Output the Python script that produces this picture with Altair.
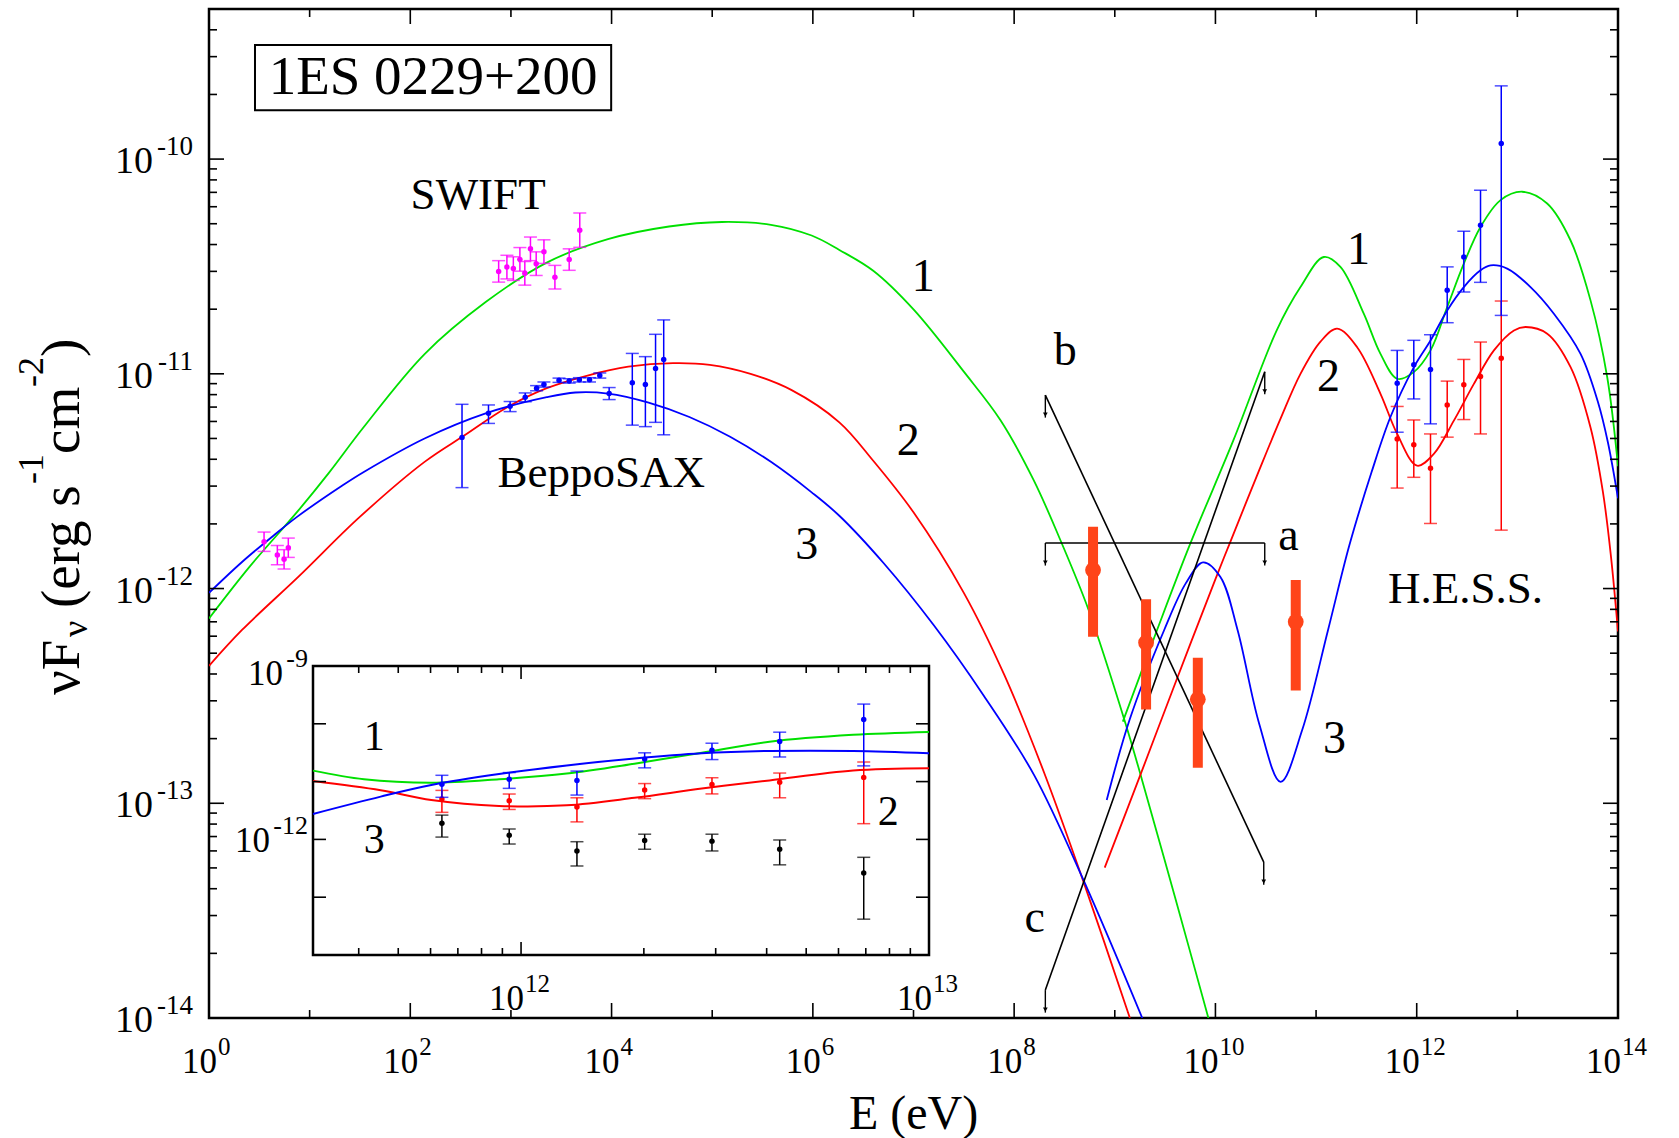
import altair as alt
import pandas as pd

FONT = "Liberation Serif"
GREEN, RED, BLUE, MAG, FERMI = "#00e000", "#ff0000", "#0000ff", "#ff00ff", "#ff4419"

# ------------- values (all as log10) -------------
# model curves: log10 E[eV] / log10 nuFnu [erg s-1 cm-2]
m1_sync_logE = [0.0, 0.4, 0.878, 1.193, 1.534, 2.142, 2.749, 3.356, 3.964, 4.571, 5.097, 5.583, 5.988, 6.263, 6.6, 7.0, 7.5, 7.863, 8.194, 8.459, 8.74, 9.105, 9.27, 9.6, 9.93]
m1_sync_logF = [-12.139, -11.90, -11.642, -11.46, -11.25, -10.908, -10.666, -10.482, -10.373, -10.314, -10.293, -10.306, -10.356, -10.423, -10.52, -10.70, -10.99, -11.215, -11.495, -11.774, -12.10, -12.626, -12.89, -13.44, -14.0]
m2_sync_logE = [0.0, 0.328, 0.9, 1.49, 2.142, 2.547, 2.951, 3.356, 3.761, 4.166, 4.611, 4.976, 5.381, 5.785, 6.263, 6.6, 7.0, 7.5, 7.9, 8.3, 8.7, 9.15]
m2_sync_logF = [-12.36, -12.193, -11.94, -11.67, -11.410, -11.284, -11.159, -11.067, -11.008, -10.967, -10.950, -10.958, -11.0, -11.075, -11.226, -11.405, -11.645, -12.02, -12.40, -12.86, -13.38, -14.0]
m3_sync_logE = [0.0, 0.331, 0.663, 0.878, 1.325, 1.534, 2.142, 2.749, 3.356, 3.64, 3.964, 4.368, 4.773, 5.178, 5.583, 5.988, 6.263, 6.7, 7.2, 7.7, 8.2, 8.696, 9.273]
m3_sync_logF = [-12.02, -11.875, -11.745, -11.665, -11.52, -11.458, -11.301, -11.184, -11.109, -11.087, -11.092, -11.134, -11.201, -11.293, -11.410, -11.552, -11.661, -11.88, -12.17, -12.50, -12.87, -13.365, -14.0]

m1_ic_logE = [9.08, 9.42, 9.751, 10.18, 10.61, 10.845, 11.077, 11.242, 11.474, 11.640, 11.806, 11.971, 12.137, 12.303, 12.468, 12.634, 12.833, 13.048, 13.296, 13.528, 13.727, 13.893, 14.0]
m1_ic_logF = [-12.62, -12.193, -11.79, -11.308, -10.796, -10.596, -10.456, -10.502, -10.720, -10.907, -11.023, -10.992, -10.891, -10.689, -10.487, -10.316, -10.191, -10.152, -10.207, -10.378, -10.658, -11.016, -11.43]
m2_ic_logE = [8.90, 9.277, 9.577, 10.005, 10.15, 10.434, 10.646, 10.845, 11.044, 11.209, 11.408, 11.640, 11.806, 12.004, 12.170, 12.369, 12.568, 12.767, 12.966, 13.082, 13.297, 13.529, 13.727, 13.85, 13.93, 14.0]
m2_ic_logF = [-13.30, -12.84, -12.47, -11.95, -11.78, -11.45, -11.21, -11.0, -10.85, -10.79, -10.876, -11.093, -11.280, -11.428, -11.373, -11.218, -11.047, -10.891, -10.798, -10.782, -10.813, -10.969, -11.25, -11.55, -11.85, -12.2]
m3_ic_logE = [8.92, 9.148, 9.491, 9.705, 9.877, 10.048, 10.220, 10.434, 10.648, 10.862, 11.119, 11.33, 11.55, 11.74, 11.971, 12.137, 12.303, 12.468, 12.634, 12.734, 12.899, 13.131, 13.363, 13.628, 13.80, 13.90, 14.0]
m3_ic_logF = [-12.985, -12.61, -12.193, -11.976, -11.878, -11.945, -12.193, -12.628, -12.90, -12.659, -12.193, -11.80, -11.46, -11.20, -10.97, -10.845, -10.705, -10.596, -10.518, -10.495, -10.510, -10.596, -10.720, -10.907, -11.13, -11.32, -11.58]

# SWIFT (magenta)
sw_logE = [0.547, 0.679, 0.746, 0.788, 2.878, 2.960, 3.024, 3.089, 3.138, 3.194, 3.251, 3.328, 3.437, 3.579, 3.684]
sw_logF = [-11.782, -11.844, -11.864, -11.810, -10.523, -10.503, -10.510, -10.467, -10.532, -10.418, -10.487, -10.431, -10.550, -10.468, -10.331]
sw_err = [0.045, 0.045, 0.045, 0.045, 0.05, 0.055, 0.055, 0.055, 0.055, 0.055, 0.055, 0.055, 0.055, 0.05, 0.08]

# BeppoSAX (blue)
bs_logE = [2.514, 2.777, 2.992, 3.142, 3.255, 3.328, 3.478, 3.579, 3.680, 3.781, 3.883, 3.976, 4.206, 4.336, 4.437, 4.518]
bs_logF = [-11.296, -11.184, -11.151, -11.109, -11.067, -11.050, -11.030, -11.033, -11.028, -11.028, -11.008, -11.092, -11.042, -11.050, -10.975, -10.933]
bs_hi = [-11.142, -11.145, -11.129, -11.089, -11.055, -11.038, -11.020, -11.023, -11.018, -11.018, -10.996, -11.064, -10.905, -10.920, -10.816, -10.749]
bs_lo = [-11.530, -11.231, -11.176, -11.130, -11.079, -11.062, -11.040, -11.043, -11.038, -11.038, -11.020, -11.120, -11.239, -11.246, -11.226, -11.284]

# Fermi (thick orange-red)
fe_logE = [8.784, 9.311, 9.825, 10.798]
fe_logF = [-11.914, -12.252, -12.516, -12.155]
fe_hi = [-11.712, -12.050, -12.322, -11.960]
fe_lo = [-12.224, -12.563, -12.834, -12.475]

# H.E.S.S. (blue and red sets, same energies)
he_logE = [11.806, 11.971, 12.137, 12.303, 12.468, 12.634, 12.840]
heb_logF = [-11.044, -10.958, -10.980, -10.611, -10.456, -10.308, -9.927]
heb_hi = [-10.891, -10.844, -10.818, -10.502, -10.336, -10.145, -9.659]
heb_lo = [-11.272, -11.117, -11.233, -10.762, -10.619, -10.574, -10.728]
her_logF = [-11.303, -11.330, -11.440, -11.145, -11.051, -11.012, -10.927]
her_hi = [-11.152, -11.215, -11.280, -11.034, -10.933, -10.852, -10.661]
her_lo = [-11.532, -11.482, -11.697, -11.295, -11.213, -11.280, -11.728]
# inset black set
hek_logF = [-11.72, -11.93, -12.20, -12.02, -12.03, -12.17, -12.58]
hek_hi = [-11.58, -11.82, -12.04, -11.91, -11.91, -12.01, -12.31]
hek_lo = [-11.96, -12.08, -12.46, -12.17, -12.20, -12.44, -13.38]

# inset model curves
in1_logE = [11.49, 11.615, 11.78, 11.946, 12.112, 12.278, 12.443, 12.609, 12.814, 13.0]
in1_logF = [-10.81, -10.96, -11.02, -10.96, -10.86, -10.69, -10.50, -10.31, -10.19, -10.14]
in2_logE = [11.49, 11.656, 11.78, 11.946, 12.112, 12.278, 12.443, 12.609, 12.814, 13.0]
in2_logF = [-10.99, -11.15, -11.32, -11.42, -11.41, -11.28, -11.12, -10.98, -10.81, -10.77]
in3_logE = [11.49, 11.656, 11.78, 11.946, 12.112, 12.278, 12.443, 12.609, 12.814, 13.0]
in3_logF = [-11.56, -11.26, -11.06, -10.87, -10.72, -10.60, -10.51, -10.47, -10.47, -10.51]

# upper-limit "butterfly" lines a, b, c (end points)
bf_id = ["a", "a", "b", "b", "c", "c"]
bf_logE = [8.31, 10.49, 8.31, 10.48, 8.31, 10.49]
bf_logF = [-11.788, -11.788, -11.099, -13.274, -13.87, -10.99]
arrow_len = 0.105

# annotations
ann_text = ["SWIFT", "BeppoSAX", "1", "2", "3", "1", "2", "3", "b", "a", "c", "H.E.S.S."]
ann_logE = [2.674, 3.897, 7.097, 6.948, 5.94, 11.421, 11.123, 11.183, 8.509, 10.726, 8.205, 12.485]
ann_logF = [-10.233, -11.527, -10.612, -11.378, -11.861, -10.489, -11.08, -12.766, -10.959, -11.821, -13.598, -12.068]
ann_size = [45, 45, 46, 46, 46, 46, 46, 46, 46, 46, 46, 45]
inset_ann_text = ["1", "3", "2"]
inset_ann_logE = [11.64, 11.64, 12.90]
inset_ann_logF = [-10.457, -12.24, -11.75]

title_text = "1ES 0229+200"
title_logE, title_logF = 2.227, -9.697
title_box_logE = [0.457, 3.996]
title_box_logF = [-9.772, -9.469]

# axis ticks / labels
x_major_exp = [0, 2, 4, 6, 8, 10, 12, 14]
x_minor_exp = [1, 3, 5, 7, 9, 11, 13]
y_major_exp = [-14, -13, -12, -11, -10]

# ------------- layout -------------
W, H = 1409, 1009
PAD = {"left": 209, "top": 9, "right": 61, "bottom": 120}
IL, IR, IT, IB = 104, 720, 657, 946   # inset box inside the plot area (px)

XS = alt.Scale(type="log", domain=[1.0, 1e14], nice=False)
YS = alt.Scale(type="log", domain=[1e-14, 5e-10], nice=False)
XI = alt.Scale(type="log", domain=[10 ** 11.49, 1e13], range=[IL, IR], nice=False)
YI = alt.Scale(type="log", domain=[1e-14, 1e-9], range=[IB, IT], nice=False)


def P(v):
    return [10.0 ** t for t in v]


def xch(scale, f="E"):
    return alt.X(f"{f}:Q", scale=scale, axis=None)


def ych(scale, f="F"):
    return alt.Y(f"{f}:Q", scale=scale, axis=None)


def curves(segs, xs_, ys_, width=1.8):
    rows = []
    for sid, (col, xs, ys) in enumerate(segs):
        for i, (a, b) in enumerate(zip(xs, ys)):
            rows.append({"E": 10 ** a, "F": 10 ** b, "seg": sid, "col": col, "i": i})
    df = pd.DataFrame(rows)
    return alt.Chart(df).mark_line(strokeWidth=width, interpolate="catmull-rom", clip=True).encode(
        x=xch(xs_), y=ych(ys_), color=alt.Color("col:N", scale=None, legend=None),
        detail="seg:N", order="i:Q")


def errbars(xs, ys, his, los, color, xs_, ys_, cap=13, sw=1.5, pt=30):
    df = pd.DataFrame({"E": P(xs), "F": P(ys), "hi": P(his), "lo": P(los)})
    b = alt.Chart(df)
    return [
        b.mark_rule(color=color, strokeWidth=sw).encode(x=xch(xs_), y=ych(ys_, "lo"), y2="hi:Q"),
        b.mark_tick(color=color, orient="horizontal", size=cap, thickness=sw).encode(x=xch(xs_), y=ych(ys_, "hi")),
        b.mark_tick(color=color, orient="horizontal", size=cap, thickness=sw).encode(x=xch(xs_), y=ych(ys_, "lo")),
        b.mark_circle(color=color, size=pt, opacity=1).encode(x=xch(xs_), y=ych(ys_)),
    ]


main_layers = []

# model curves
main_layers.append(curves([
    (GREEN, m1_sync_logE, m1_sync_logF), (RED, m2_sync_logE, m2_sync_logF), (BLUE, m3_sync_logE, m3_sync_logF),
    (GREEN, m1_ic_logE, m1_ic_logF), (RED, m2_ic_logE, m2_ic_logF), (BLUE, m3_ic_logE, m3_ic_logF),
], XS, YS))

# butterfly lines
bf_df = pd.DataFrame({"id": bf_id, "E": P(bf_logE), "F": P(bf_logF)})
main_layers.append(alt.Chart(bf_df).mark_line(color="black", strokeWidth=1.6).encode(
    x=xch(XS), y=ych(YS), detail="id:N"))
ar_df = pd.DataFrame({"E": P(bf_logE), "F": P(bf_logF), "tip": P([v - arrow_len for v in bf_logF])})
main_layers.append(alt.Chart(ar_df).mark_rule(color="black", strokeWidth=1.4).encode(
    x=xch(XS), y=ych(YS), y2="tip:Q"))
main_layers.append(alt.Chart(ar_df).mark_point(shape="triangle-down", filled=True, color="black",
                                               size=22, opacity=1, yOffset=-3).encode(
    x=xch(XS), y=ych(YS, "tip")))

# Fermi
fe_df = pd.DataFrame({"E": P(fe_logE), "F": P(fe_logF), "hi": P(fe_hi), "lo": P(fe_lo)})
main_layers.append(alt.Chart(fe_df).mark_rule(color=FERMI, strokeWidth=10).encode(
    x=xch(XS), y=ych(YS, "lo"), y2="hi:Q"))
main_layers.append(alt.Chart(fe_df).mark_circle(color=FERMI, size=250, opacity=1).encode(
    x=xch(XS), y=ych(YS)))

# data sets
main_layers += errbars(sw_logE, sw_logF, [a + e for a, e in zip(sw_logF, sw_err)],
                       [a - e for a, e in zip(sw_logF, sw_err)], MAG, XS, YS)
main_layers += errbars(bs_logE, bs_logF, bs_hi, bs_lo, BLUE, XS, YS)
main_layers += errbars(he_logE, her_logF, her_hi, her_lo, RED, XS, YS)
main_layers += errbars(he_logE, heb_logF, heb_hi, heb_lo, BLUE, XS, YS)

# title box + text
tb_df = pd.DataFrame({"x1": [10 ** title_box_logE[0]], "x2": [10 ** title_box_logE[1]],
                      "y1": [10 ** title_box_logF[0]], "y2": [10 ** title_box_logF[1]],
                      "E": [10 ** title_logE], "F": [10 ** title_logF], "t": [title_text]})
main_layers.append(alt.Chart(tb_df).mark_rect(fill="white", stroke="black", strokeWidth=2).encode(
    x=xch(XS, "x1"), x2="x2:Q", y=ych(YS, "y1"), y2="y2:Q"))
main_layers.append(alt.Chart(tb_df).mark_text(font=FONT, fontSize=55, baseline="alphabetic", align="center").encode(
    x=xch(XS), y=ych(YS), text="t:N"))

# annotations
ann_df = pd.DataFrame({"E": P(ann_logE), "F": P(ann_logF), "t": ann_text, "fs": ann_size})
main_layers.append(alt.Chart(ann_df).mark_text(font=FONT, baseline="alphabetic", align="center").encode(
    x=xch(XS), y=ych(YS), text="t:N", size=alt.Size("fs:Q", scale=None, legend=None)))

# main ticks (inward, all four sides)
xmaj = pd.DataFrame({"E": [10.0 ** k for k in x_major_exp]})
xmin = pd.DataFrame({"E": [10.0 ** k for k in x_minor_exp]})
ymaj = pd.DataFrame({"F": [10.0 ** k for k in y_major_exp]})
ymin = pd.DataFrame({"F": [m * 10.0 ** k for k in y_major_exp for m in range(2, 10) if m * 10.0 ** k < 4.9e-10]})
for df, L in [(xmaj, 15), (xmin, 8)]:
    main_layers.append(alt.Chart(df).mark_rule(color="black", strokeWidth=1.6).encode(
        x=xch(XS), y=alt.value(H), y2=alt.value(H - L)))
    main_layers.append(alt.Chart(df).mark_rule(color="black", strokeWidth=1.6).encode(
        x=xch(XS), y=alt.value(0), y2=alt.value(L)))
for df, L in [(ymaj, 15), (ymin, 8)]:
    main_layers.append(alt.Chart(df).mark_rule(color="black", strokeWidth=1.6).encode(
        y=ych(YS), x=alt.value(0), x2=alt.value(L)))
    main_layers.append(alt.Chart(df).mark_rule(color="black", strokeWidth=1.6).encode(
        y=ych(YS), x=alt.value(W), x2=alt.value(W - L)))

# main tick labels
xl1 = pd.DataFrame({"E": [10.0 ** k for k in x_major_exp if k < 10], "t": [str(k) for k in x_major_exp if k < 10]})
xl2 = pd.DataFrame({"E": [10.0 ** k for k in x_major_exp if k >= 10], "t": [str(k) for k in x_major_exp if k >= 10]})
for df, d10, dex in [(xl1, 8, 9), (xl2, 3, 4)]:
    main_layers.append(alt.Chart(df).mark_text(text="10", font=FONT, fontSize=35, align="right",
                                               baseline="alphabetic", dx=d10, dy=55).encode(
        x=xch(XS), y=alt.value(H)))
    main_layers.append(alt.Chart(df).mark_text(font=FONT, fontSize=25, align="left",
                                               baseline="alphabetic", dx=dex, dy=37).encode(
        x=xch(XS), y=alt.value(H), text="t:N"))
yl = pd.DataFrame({"F": [10.0 ** k for k in y_major_exp], "t": [str(k) for k in y_major_exp]})
main_layers.append(alt.Chart(yl).mark_text(text="10", font=FONT, fontSize=38, align="right",
                                           baseline="alphabetic", dx=-56, dy=14).encode(
    x=alt.value(0), y=ych(YS)))
main_layers.append(alt.Chart(yl).mark_text(font=FONT, fontSize=27, align="right",
                                           baseline="alphabetic", dx=-16, dy=-4).encode(
    x=alt.value(0), y=ych(YS), text="t:N"))

# axis titles
one = pd.DataFrame({"k": [0]})
main_layers.append(alt.Chart(one).mark_text(text="E (eV)", font=FONT, fontSize=48, align="center",
                                            baseline="alphabetic").encode(x=alt.value(W / 2), y=alt.value(1120)))
ytitle = [("\u03bdF", -130, 686, 55), ("\u03bd", -122, 628, 36), ("(erg s", -130, 599, 55),
          ("-1", -166, 475, 36), ("cm", -130, 445, 55), ("-2", -166, 378, 36), (")", -130, 348, 55)]
for t, px, py, fs in ytitle:
    main_layers.append(alt.Chart(one).mark_text(text=t, font=FONT, fontSize=fs, angle=270, align="left",
                                                baseline="alphabetic").encode(x=alt.value(px), y=alt.value(py)))

main = alt.layer(*main_layers)

# ---------------- inset ----------------
inset_layers = []
box_df = pd.DataFrame({"x1": [10 ** 11.49], "x2": [1e13], "y1": [1e-14], "y2": [1e-9]})
inset_layers.append(alt.Chart(box_df).mark_rect(fill="white", stroke="black", strokeWidth=2.5).encode(
    x=xch(XI, "x1"), x2="x2:Q", y=ych(YI, "y1"), y2="y2:Q"))
inset_layers.append(curves([(GREEN, in1_logE, in1_logF), (RED, in2_logE, in2_logF),
                            (BLUE, in3_logE, in3_logF)], XI, YI, width=2))
inset_layers += errbars(he_logE, hek_logF, hek_hi, hek_lo, "black", XI, YI)
inset_layers += errbars(he_logE, her_logF, her_hi, her_lo, RED, XI, YI)
inset_layers += errbars(he_logE, heb_logF, heb_hi, heb_lo, BLUE, XI, YI)

ixmaj = pd.DataFrame({"E": [1e12]})
ixmin = pd.DataFrame({"E": [m * 1e11 for m in range(4, 10)] + [m * 1e12 for m in range(2, 10)]})
iymaj = pd.DataFrame({"F": [1e-13, 1e-12, 1e-11, 1e-10]})
for df, L in [(ixmaj, 13), (ixmin, 7)]:
    inset_layers.append(alt.Chart(df).mark_rule(color="black", strokeWidth=1.6).encode(
        x=xch(XI), y=alt.value(IB), y2=alt.value(IB - L)))
    inset_layers.append(alt.Chart(df).mark_rule(color="black", strokeWidth=1.6).encode(
        x=xch(XI), y=alt.value(IT), y2=alt.value(IT + L)))
inset_layers.append(alt.Chart(iymaj).mark_rule(color="black", strokeWidth=1.6).encode(
    y=ych(YI), x=alt.value(IL), x2=alt.value(IL + 13)))
inset_layers.append(alt.Chart(iymaj).mark_rule(color="black", strokeWidth=1.6).encode(
    y=ych(YI), x=alt.value(IR), x2=alt.value(IR - 13)))

ixl = pd.DataFrame({"E": [1e12, 1e13], "t": ["12", "13"]})
inset_layers.append(alt.Chart(ixl).mark_text(text="10", font=FONT, fontSize=35, align="right",
                                             baseline="alphabetic", dx=3, dy=55).encode(
    x=xch(XI), y=alt.value(IB)))
inset_layers.append(alt.Chart(ixl).mark_text(font=FONT, fontSize=25, align="left",
                                             baseline="alphabetic", dx=4, dy=37).encode(
    x=xch(XI), y=alt.value(IB), text="t:N"))
for val, t, d10, dy10, dye in [(1e-9, "-9", -30, 19, 1), (1e-12, "-12", -43, 13, -5)]:
    dfl = pd.DataFrame({"F": [val], "t": [t]})
    inset_layers.append(alt.Chart(dfl).mark_text(text="10", font=FONT, fontSize=35, align="right",
                                                 baseline="alphabetic", dx=d10, dy=dy10).encode(
        x=alt.value(IL), y=ych(YI)))
    inset_layers.append(alt.Chart(dfl).mark_text(font=FONT, fontSize=26, align="right",
                                                 baseline="alphabetic", dx=-5, dy=dye).encode(
        x=alt.value(IL), y=ych(YI), text="t:N"))

ia_df = pd.DataFrame({"E": P(inset_ann_logE), "F": P(inset_ann_logF), "t": inset_ann_text})
inset_layers.append(alt.Chart(ia_df).mark_text(font=FONT, fontSize=42, baseline="alphabetic", align="center").encode(
    x=xch(XI), y=ych(YI), text="t:N"))

inset = alt.layer(*inset_layers)

chart = alt.layer(main, inset).resolve_scale(x="independent", y="independent").properties(
    width=W, height=H, autosize=alt.AutoSizeParams(type="none"), padding=PAD
).configure_view(stroke="black", strokeWidth=2.5)

chart.save("out.html", embed_options={"renderer": "svg", "actions": False})
